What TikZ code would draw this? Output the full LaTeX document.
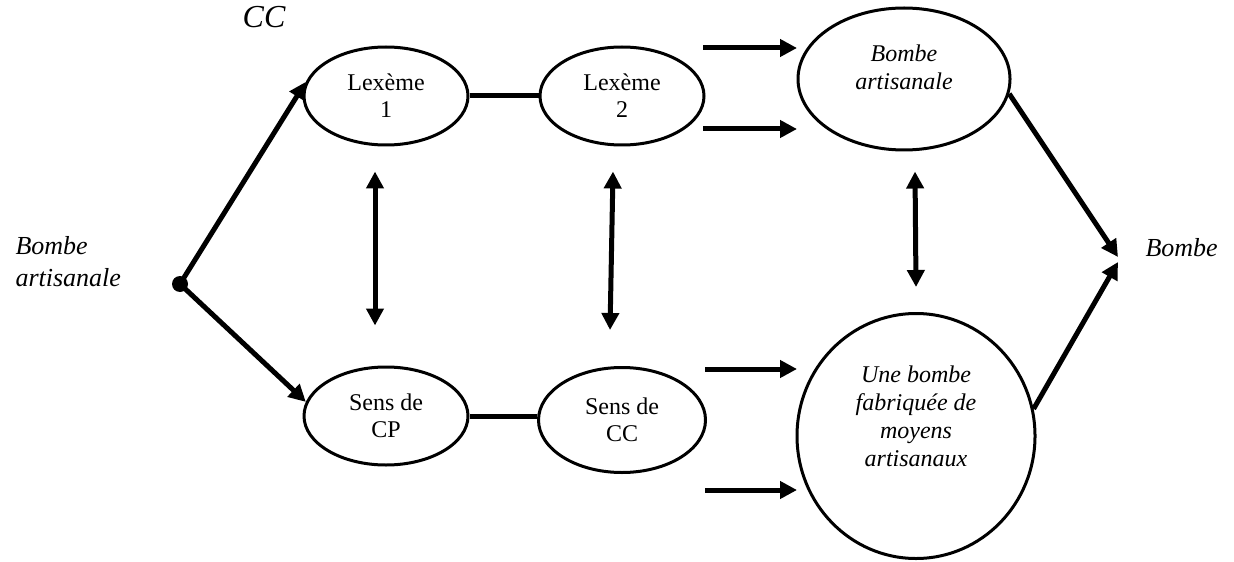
\documentclass[tikz,border=0pt]{standalone}
\usepackage{fontspec}
\setmainfont{Liberation Serif}
\usetikzlibrary{shapes.geometric,arrows.meta}
\tikzset{every node/.append style={font=\fontsize{12}{13.5}\selectfont}}

\begin{document}
\begin{tikzpicture}[x=0.5pt, y=-0.5pt, line width=2.5pt]

  \tikzstyle{sens}=[draw, ellipse, line width=1.5pt, inner sep=0pt, align=center, minimum width=82pt, minimum height=49pt]
  \tikzstyle{gloss}=[draw, ellipse, line width=1.5pt, inner sep=0pt]
  \tikzstyle{lbl}=[font=\fontsize{13}{16}\selectfont\itshape, align=left, inner sep=0pt]
  \tikzstyle{inlbl}=[font=\fontsize{12}{14}\selectfont\itshape, align=center, inner sep=0pt]
  \tikzstyle{arr}=[-{Triangle[width=8.5pt,length=8.5pt]}]
  \tikzstyle{dbl}=[{Triangle[width=8.5pt,length=8.5pt]}-{Triangle[width=8.5pt,length=8.5pt]}]

  \useasboundingbox (0,0) rectangle (1234,561);

  % left side
  \node[lbl, anchor=west] (src label) at (13,262) {Bombe\\artisanale};
  \node[circle, fill, inner sep=0pt, minimum size=8pt] (src) at (180,284) {};
  \node[font=\fontsize{16}{18}\selectfont\itshape] (cc) at (264,17) {CC};

  % lexemes and senses
  \node[sens] (lex1) at (386,96) {Lexème\\1};
  \node[sens] (lex2) at (622,96) {Lexème\\2};
  \node[sens] (cp) at (386,416) {Sens de\\CP};
  \node[sens, minimum width=83.5pt, minimum height=52.5pt] (ccs) at (622,420) {Sens de\\CC};

  % readings
  \node[gloss, minimum width=106pt, minimum height=71pt] (res) at (904,79) {};
  \node[inlbl, yshift=6pt] (res text) at (res.center) {Bombe\\artisanale};
  \node[gloss, minimum width=119pt, minimum height=122.5pt] (long) at (916,436) {};
  \node[inlbl, yshift=10pt] (long text) at (long.center) {Une bombe\\fabriquée de\\moyens\\artisanaux};

  \node[lbl, anchor=west] (tgt) at (1143,248) {Bombe};

  \coordinate (a1) at (703,48);  \coordinate (b1) at (797,48);
  \coordinate (a2) at (703,129); \coordinate (b2) at (797,129);
  \coordinate (a3) at (705,369); \coordinate (b3) at (797,369);
  \coordinate (a4) at (705,490); \coordinate (b4) at (797,490);

  \draw[arr] (src.center) -- (lex1.170);
  \draw[arr] (src.center) -- (cp.170);
  \draw (lex1.east) -- (lex2.west);
  \draw (cp.east) -- (cp.east -| ccs.west);

  \draw[dbl] ([xshift=-5.5pt,yshift=-12.5pt]lex1.south) -- ([xshift=-5.5pt,yshift=20pt]cp.north);
  \draw[dbl] ([xshift=-4.5pt,yshift=-12.5pt]lex2.south) -- ([xshift=-6pt,yshift=18pt]ccs.north);
  \draw[dbl] ([xshift=5.5pt,yshift=-10pt]res.south) -- ([yshift=12.5pt]long.north);

  \draw[arr] (a1) -- (b1);
  \draw[arr] (a2) -- (b2);
  \draw[arr] (a3) -- (b3);
  \draw[arr] (a4) -- (b4);

  \draw[arr] (res.-8) -- ([xshift=-12.5pt,yshift=-4.5pt]tgt.west);
  \draw[arr] (long.13) -- ([xshift=-12.5pt,yshift=-7pt]tgt.west);

\end{tikzpicture}
\end{document}
